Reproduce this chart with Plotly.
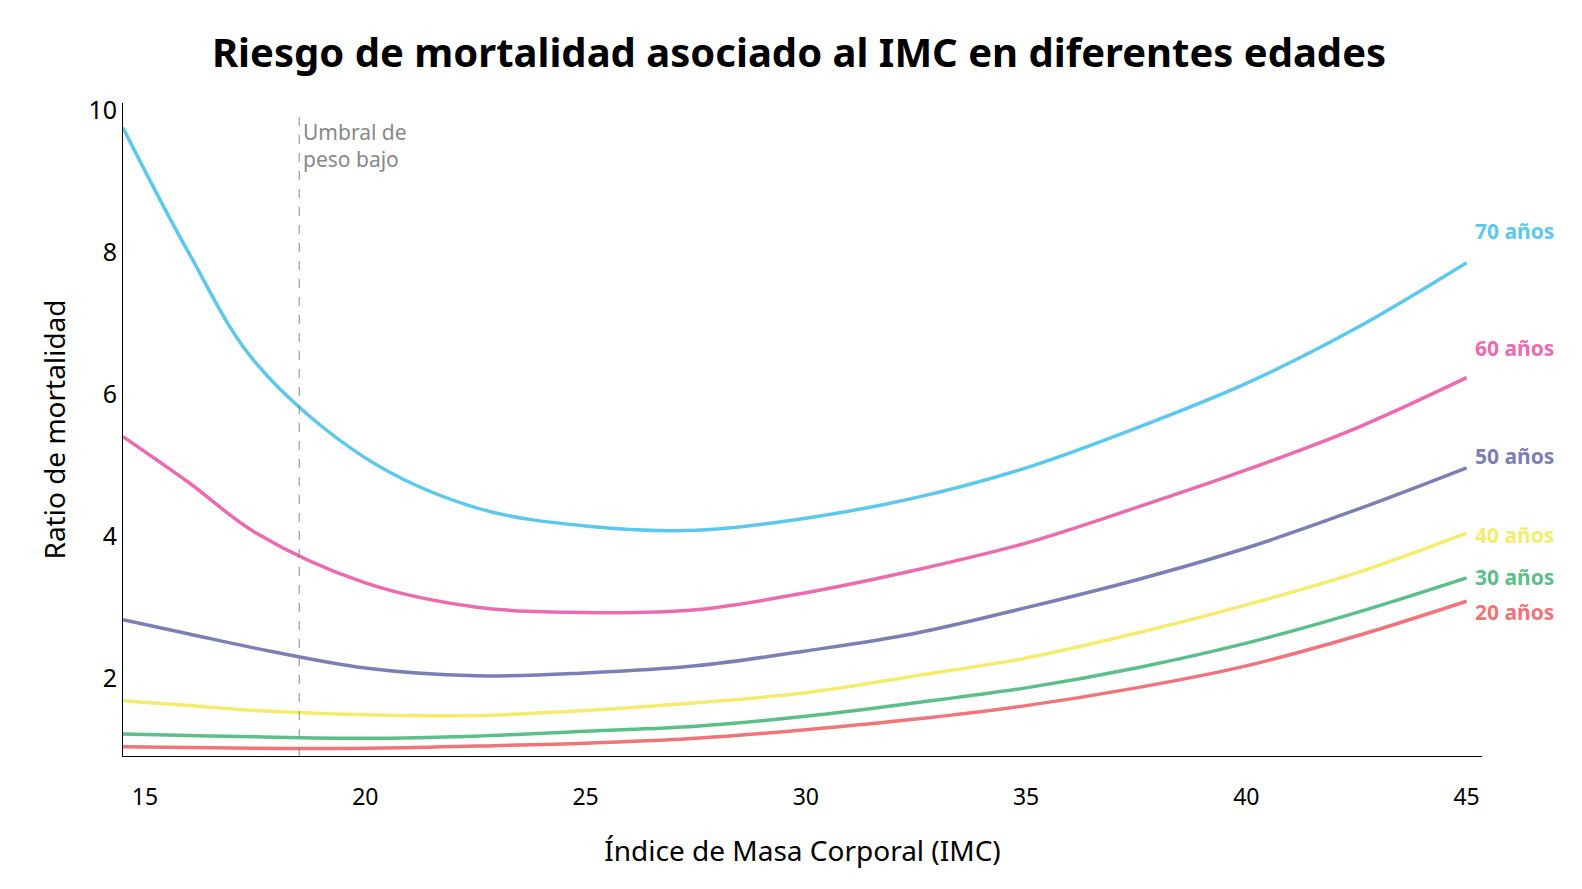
import plotly.graph_objects as go

imc = [14.5, 16, 17.5, 20, 22.5, 25, 27.5, 30, 32.5, 35, 37.5, 40, 42.5, 45]
r70 = [9.75, 7.98, 6.45, 5.1, 4.4, 4.14, 4.08, 4.25, 4.54, 4.96, 5.52, 6.15, 6.93, 7.85]
r60 = [5.4, 4.75, 4.05, 3.34, 3.0, 2.92, 2.96, 3.2, 3.52, 3.9, 4.4, 4.93, 5.52, 6.23]
r50 = [2.82, 2.62, 2.42, 2.14, 2.03, 2.07, 2.17, 2.38, 2.63, 2.99, 3.38, 3.83, 4.37, 4.96]
r40 = [1.68, 1.61, 1.54, 1.48, 1.47, 1.54, 1.65, 1.79, 2.03, 2.28, 2.63, 3.03, 3.48, 4.04]
r30 = [1.21, 1.19, 1.17, 1.15, 1.18, 1.25, 1.32, 1.46, 1.65, 1.86, 2.14, 2.49, 2.92, 3.41]
r20 = [1.03, 1.02, 1.01, 1.01, 1.04, 1.08, 1.15, 1.27, 1.42, 1.61, 1.86, 2.17, 2.59, 3.08]
series = [("70 años", r70, "#5bc8ec"), ("60 años", r60, "#ec6aaf"), ("50 años", r50, "#7b7fb5"),
          ("40 años", r40, "#f5ec6e"), ("30 años", r30, "#5cbf8a"), ("20 años", r20, "#f0747a")]
label_y = {"70 años": 8.3, "60 años": 6.65, "50 años": 5.12, "40 años": 4.02, "30 años": 3.42, "20 años": 2.93}
threshold = 18.5

fig = go.Figure()
for name, ys, col in series:
    fig.add_trace(go.Scatter(x=imc, y=ys, mode="lines", line=dict(color=col, width=3.5, shape="spline"),
                             name=name, showlegend=False))
    fig.add_annotation(x=45, y=label_y[name], text=f"<b>{name}</b>", showarrow=False, xanchor="left",
                       xshift=6, font=dict(color=col, size=21, family="Noto Sans"))
fig.add_shape(type="line", x0=threshold, x1=threshold, y0=0.9, y1=9.9,
              line=dict(color="#888", width=1, dash="dash"))
fig.add_annotation(x=threshold, y=9.5, text="Umbral de<br>peso bajo", showarrow=False, xanchor="left",
                   xshift=2, align="left", font=dict(color="#888", size=21, family="Noto Sans"))
fig.update_layout(
    width=1582, height=889, plot_bgcolor="white", paper_bgcolor="white",
    margin=dict(l=115, r=108, t=95, b=141),
    title=dict(text="<b>Riesgo de mortalidad asociado al IMC en diferentes edades</b>", x=0.5, y=0.965,
               xanchor="center", font=dict(size=40, family="Noto Sans", color="black")),
    font=dict(family="Noto Sans", size=23, color="black"),
)
fig.update_xaxes(range=[14.5, 45.35], tickvals=[15, 20, 25, 30, 35, 40, 45], showgrid=False,
                 showline=True, linecolor="black", ticks="", ticklabelstandoff=20, zeroline=False,
                 title=dict(text="Índice de Masa Corporal (IMC)", standoff=30))
fig.update_yaxes(range=[0.9, 10.1], tickvals=[2, 4, 6, 8, 10], showgrid=False, showline=True,
                 linecolor="black", ticks="", zeroline=False, tickfont=dict(size=25),
                 title=dict(text="Ratio de mortalidad", standoff=14))
fig.write_html("out.html")
